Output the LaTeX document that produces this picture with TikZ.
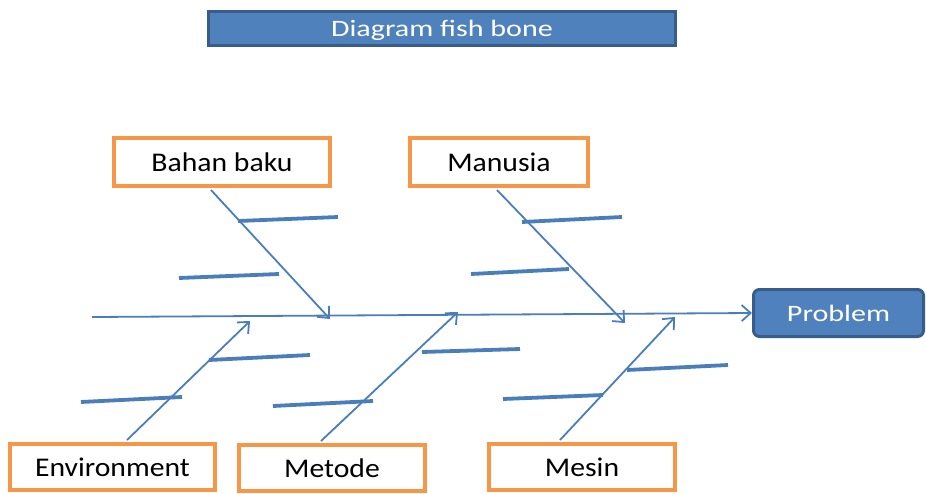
\documentclass[tikz,border=0pt]{standalone}
\usepackage{fontspec}
\usetikzlibrary{arrows.meta}
\newfontfamily\lblfont[FakeStretch=1.1]{Carlito}
\newfontfamily\ttlfont[FakeStretch=1.28]{Carlito}
\definecolor{bonec}{HTML}{4A7EBB}
\definecolor{fillc}{HTML}{4F81BD}
\definecolor{darkc}{HTML}{385D8A}
\definecolor{orangec}{HTML}{F79646}
\begin{document}
\begin{tikzpicture}[x=1pt,y=-1pt,
  catbox/.style={draw=orangec, line width=4pt, fill=white, inner sep=0pt,
    font=\lblfont\fontsize{27}{31}\selectfont, text=black},
  bluebox/.style={draw=darkc, fill=fillc, inner sep=0pt, text=white,
    font=\ttlfont\fontsize{23.5}{27}\selectfont},
  bone/.style={draw=bonec, line width=1.8pt, -{Straight Barb[length=9pt,width=16pt]}},
  sub/.style={draw=bonec, line width=3.8pt}
]
\useasboundingbox (0,0) rectangle (926,493);

\node[bluebox, line width=3pt, minimum width=467pt, minimum height=34pt] (title) at (442,28.5) {};
\node[text=white, font=\ttlfont\fontsize{23.5}{27}\selectfont, inner sep=0pt] (titletext) at (442,30.5) {Diagram fish bone};
\node[bluebox, line width=3pt, rounded corners=6pt, minimum width=170pt, minimum height=47pt] (problem) at (838.5,313) {Problem};

\node[catbox, minimum width=216pt, minimum height=48pt] (bahan) at (222,162) {Bahan baku};
\node[catbox, minimum width=178pt, minimum height=48pt] (manusia) at (499,162) {Manusia};
\node[catbox, minimum width=205pt, minimum height=46pt] (env) at (112.5,467) {Environment};
\node[catbox, minimum width=186pt, minimum height=46pt] (metode) at (332,468) {Metode};
\node[catbox, minimum width=186pt, minimum height=46pt] (mesin) at (582,467) {Mesin};

\coordinate (spine0) at (92,317);
\coordinate (b1) at (330,319);
\coordinate (b2) at (625,323);
\coordinate (b3) at (250,321);
\coordinate (b4) at (458,312);
\coordinate (b5) at (675,317);

% spine
\draw[bone] (spine0) -- (problem.west);
% main bones
\draw[bone] ([xshift=-11pt,yshift=-2pt]bahan.south) -- (b1);
\draw[bone] ([xshift=-2pt,yshift=-2pt]manusia.south) -- (b2);
\draw[bone] ([xshift=14.5pt,yshift=2pt]env.north) -- (b3);
\draw[bone] ([xshift=-11pt,yshift=2pt]metode.north) -- (b4);
\draw[bone] ([xshift=-22pt,yshift=2pt]mesin.north) -- (b5);

% sub bones
\draw[sub] (238,221) -- (338,217);
\draw[sub] (179,278) -- (279,274);
\draw[sub] (522,222) -- (622,217);
\draw[sub] (471,274) -- (569,269);
\draw[sub] (209,360) -- (310,355);
\draw[sub] (81,402) -- (182,397);
\draw[sub] (273,406) -- (373,401);
\draw[sub] (422,352) -- (520,349);
\draw[sub] (627,370) -- (728,365);
\draw[sub] (503,399) -- (603,395);
\end{tikzpicture}
\end{document}
